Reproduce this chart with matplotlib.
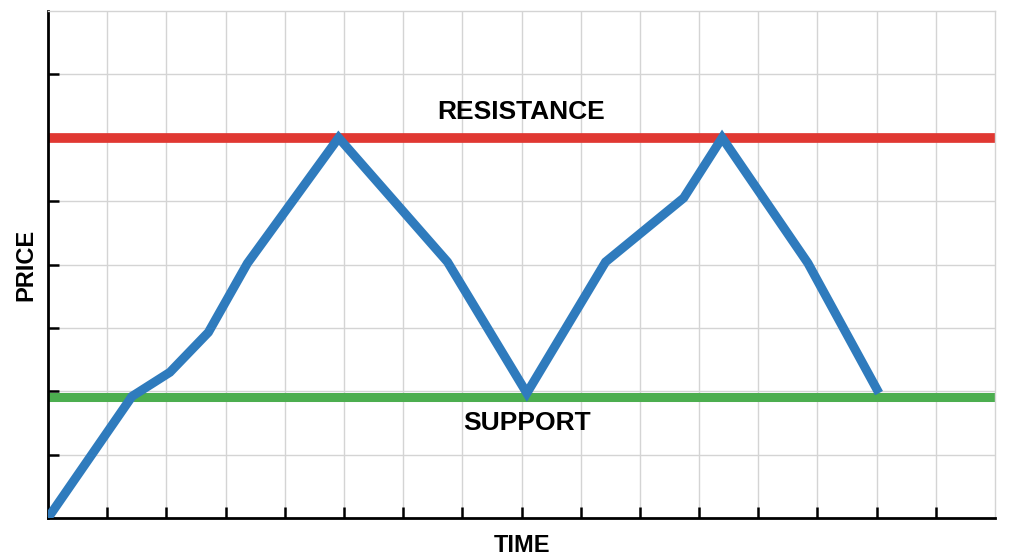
import matplotlib
matplotlib.use("Agg")
import matplotlib.pyplot as plt

# Data (time units, price units)
time_points = [0, 1.42, 2.06, 2.71, 3.37, 4.91, 6.75, 8.09, 9.42, 10.74, 11.39, 12.84, 14.04]
price_points = [0, 1.92, 2.30, 2.93, 4.02, 6.0, 4.04, 1.97, 4.04, 5.05, 6.0, 4.02, 1.97]
resistance_level = 6.0
support_level = 1.91
x_ticks = list(range(1, 16))
y_ticks = list(range(1, 8))

plt.rcParams['font.family'] = ['Liberation Sans', 'DejaVu Sans']

fig = plt.figure(figsize=(10.24, 5.59), dpi=100)
ax = fig.add_axes([48/1024, 1-518/559, (995-48)/1024, (518-11)/559])

ax.set_xlim(0, 16)
ax.set_ylim(0, 8)
ax.set_xticks(x_ticks)
ax.set_yticks(y_ticks)
ax.set_xticklabels([])
ax.set_yticklabels([])
ax.grid(True, color='#d4d4d4', linewidth=1.0, zorder=0)
ax.set_axisbelow(True)

ax.axhline(resistance_level, color='#e03832', linewidth=7, zorder=2, solid_capstyle='butt')
ax.axhline(support_level, color='#4cae4f', linewidth=6.5, zorder=2, solid_capstyle='butt')
ax.plot(time_points, price_points, color='#2f7bbd', linewidth=6.5, zorder=3,
        solid_joinstyle='miter', solid_capstyle='butt', clip_on=True)

ax.text(8.0, resistance_level + 0.22, 'RESISTANCE', ha='center', va='bottom',
        fontsize=19, fontweight='bold', color='black')
ax.text(8.1, support_level - 0.22, 'SUPPORT', ha='center', va='top',
        fontsize=19, fontweight='bold', color='black')

ax.set_xlabel('TIME', fontsize=17, fontweight='bold', labelpad=8)
ax.set_ylabel('PRICE', fontsize=17, fontweight='bold', labelpad=4)

for side in ['top', 'right']:
    ax.spines[side].set_color('#d4d4d4')
    ax.spines[side].set_linewidth(1.0)
for side in ['left', 'bottom']:
    ax.spines[side].set_color('black')
    ax.spines[side].set_linewidth(2.0)

ax.tick_params(axis='both', direction='in', length=8, width=1.8, color='black')

fig.savefig('out.png', dpi=100, facecolor='white')
